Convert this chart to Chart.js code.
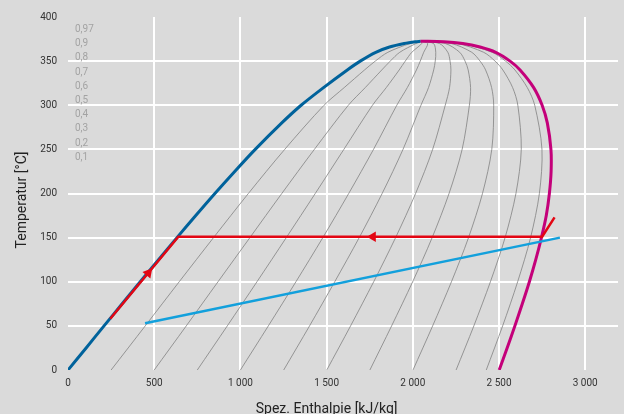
<!DOCTYPE html>
<html>
<head>
<meta charset="utf-8">
<script src="https://cdn.jsdelivr.net/npm/chart.js@4.4.1/dist/chart.umd.min.js"></script>
<style>
  html, body { margin: 0; padding: 0; background: #dadada; }
  #wrap { width: 624px; height: 414px; }
</style>
</head>
<body>
<div id="wrap"><canvas id="tsChart" width="624" height="414"></canvas></div>
<script>
// Sättigungslinien (Wasser)
const satT = [0, 25, 50, 75, 100, 125, 150, 175, 200, 225, 250, 280, 300, 320, 340, 350, 360, 366, 370, 372, 372.5];
const satLiquidH = [0, 105, 209, 314, 419, 525, 632, 741, 852, 967, 1086, 1240, 1352, 1482, 1620, 1695, 1785, 1865, 1950, 2015, 2045];
const satVaporH = [2501, 2547, 2592, 2635, 2676, 2713, 2746, 2774, 2792, 2802, 2801, 2780, 2750, 2701, 2622, 2564, 2481, 2390, 2290, 2180, 2045];

// Linien gleichen Dampfgehalts
const qualityT = [0, 50, 100, 150, 200, 250, 300, 320, 340, 350, 360, 370, 372.5];
const qualityLabels = ["0,97", "0,9", "0,8", "0,7", "0,6", "0,5", "0,4", "0,3", "0,2", "0,1"];
const qualityH = [
  [2426, 2521, 2608, 2683, 2734, 2749, 2707, 2664, 2592, 2538, 2460, 2280, 2045],
  [2251, 2354, 2450, 2535, 2598, 2629, 2609, 2579, 2522, 2477, 2411, 2256, 2045],
  [2001, 2115, 2224, 2323, 2404, 2458, 2469, 2457, 2422, 2390, 2342, 2222, 2045],
  [1751, 1877, 1999, 2112, 2210, 2286, 2328, 2335, 2321, 2303, 2272, 2188, 2045],
  [1501, 1639, 1773, 1900, 2016, 2115, 2188, 2213, 2221, 2216, 2203, 2154, 2045],
  [1251, 1401, 1547, 1689, 1822, 1943, 2047, 2091, 2121, 2130, 2133, 2120, 2045],
  [1000, 1162, 1322, 1478, 1628, 1772, 1907, 1968, 2021, 2043, 2063, 2086, 2045],
  [750, 924, 1096, 1266, 1434, 1600, 1766, 1846, 1921, 1956, 1994, 2052, 2045],
  [500, 686, 870, 1055, 1240, 1429, 1626, 1724, 1820, 1869, 1924, 2018, 2045],
  [250, 448, 645, 844, 1046, 1257, 1485, 1602, 1720, 1782, 1855, 1984, 2045]
];

// Prozesslinie (rot) und Wärmequelle (hellblau)
const processH = [245, 640, 2750, 2822];
const processT = [58, 151, 151, 173];
const arrowH = [466, 1768];
const arrowT = [110, 151];
const arrowAngle = [40, -90];
const sourceH = [447, 2853];
const sourceT = [53, 150];

const xTicks = [0, 500, 1000, 1500, 2000, 2500, 3000];

const toPoints = (xs, ys) => xs.map((x, i) => ({ x: x, y: ys[i] }));

const fmt = v => String(v).replace(/\B(?=(\d{3})+(?!\d))/g, " ");

const datasets = [
  {
    label: "Quelle",
    data: toPoints(sourceH, sourceT),
    borderColor: "#12a0dc",
    borderWidth: 2.5,
    pointRadius: 0,
    showLine: true,
  },
  {
    label: "Pfeile",
    data: toPoints(arrowH, arrowT),
    pointStyle: "triangle",
    rotation: arrowAngle,
    pointRadius: 6,
    backgroundColor: "#e30613",
    borderColor: "#e30613",
    borderWidth: 0,
    showLine: false,
  },
  {
    label: "Prozess",
    data: toPoints(processH, processT),
    borderColor: "#e30613",
    borderWidth: 2.5,
    pointRadius: 0,
    showLine: true,
  },
  {
    label: "Sattdampf",
    data: toPoints(satVaporH, satT),
    borderColor: "#c4007a",
    borderWidth: 3,
    pointRadius: 0,
    showLine: true,
    tension: 0.3,
  },
  {
    label: "Siedelinie",
    data: toPoints(satLiquidH, satT),
    borderColor: "#00629b",
    borderWidth: 3,
    pointRadius: 0,
    showLine: true,
    tension: 0.3,
  },
];

qualityH.forEach((hs, i) => {
  datasets.push({
    label: "x = " + qualityLabels[i],
    data: toPoints(hs, qualityT),
    borderColor: "#828282",
    borderWidth: 0.8,
    pointRadius: 0,
    showLine: true,
    tension: 0.3,
  });
});

// Hintergrund, Achsentitel und Dampfgehalt-Beschriftung
const decor = {
  id: "decor",
  beforeDraw(chart) {
    const c = chart.ctx;
    c.save();
    c.fillStyle = "#dadada";
    c.fillRect(0, 0, chart.width, chart.height);
    c.restore();
  },
  afterDraw(chart) {
    const c = chart.ctx;
    const xs = chart.scales.x;
    c.save();
    c.fillStyle = "#a3a3a3";
    c.font = "10px Roboto";
    c.textAlign = "left";
    c.textBaseline = "middle";
    qualityLabels.forEach((t, i) => c.fillText(t, 75, 29.5 + i * 14.2));

    c.fillStyle = "#222";
    c.font = "14px Roboto";
    c.textAlign = "center";
    c.textBaseline = "alphabetic";
    const cx = (xs.getPixelForValue(0) + xs.getPixelForValue(3000)) / 2;
    c.fillText("Spez. Enthalpie [kJ/kg]", cx, 413);

    c.translate(26, 200);
    c.rotate(-Math.PI / 2);
    c.fillText("Temperatur [°C]", 0, 0);
    c.restore();
  },
};

const ctx = document.getElementById("tsChart").getContext("2d");

const chart = new Chart(ctx, {
  type: "scatter",
  data: { datasets: datasets },
  plugins: [decor],
  options: {
    responsive: false,
    animation: false,
    layout: { padding: { top: 17, right: 5, left: 0, bottom: 0 } },
    plugins: {
      legend: { display: false },
      tooltip: { enabled: false },
    },
    scales: {
      x: {
        type: "linear",
        min: 0,
        max: 3190,
        afterBuildTicks: s => { s.ticks = xTicks.map(v => ({ value: v })); },
        afterFit: s => { s.height = 44; },
        border: { display: false },
        grid: {
          color: c => (c.tick && c.tick.value === 0 ? "transparent" : "#ffffff"),
          lineWidth: 2,
          drawTicks: false,
        },
        ticks: {
          padding: 7,
          color: "#333",
          font: { family: "Roboto", size: 10 },
          callback: v => fmt(v),
        },
      },
      y: {
        min: 0,
        max: 400,
        afterFit: s => { s.width = 68; },
        border: { display: false },
        grid: {
          color: c => (c.tick && (c.tick.value === 0 || c.tick.value === 400) ? "transparent" : "#ffffff"),
          lineWidth: 2,
          drawTicks: false,
        },
        ticks: {
          stepSize: 50,
          padding: 11,
          color: "#333",
          font: { family: "Roboto", size: 10 },
        },
      },
    },
  },
});
</script>
</body>
</html>
